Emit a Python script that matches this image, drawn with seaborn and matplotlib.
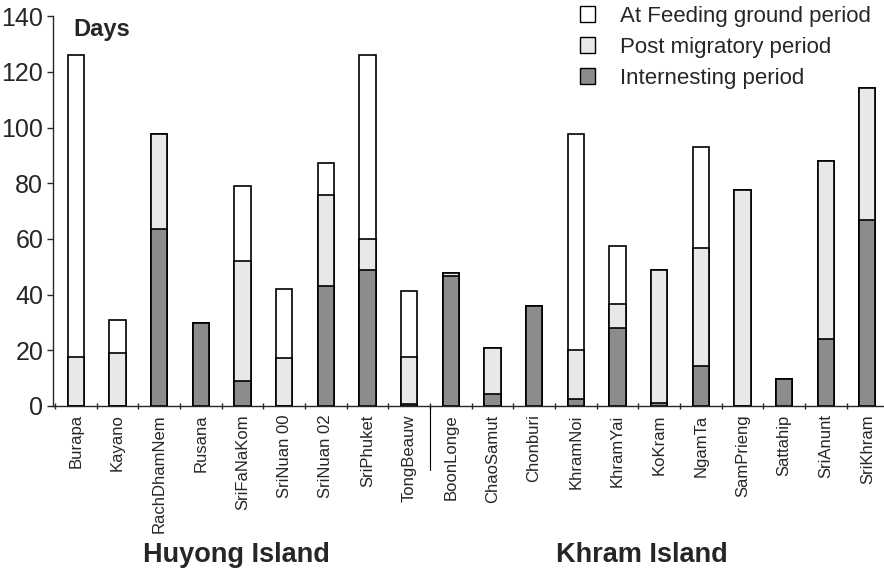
import matplotlib
matplotlib.use("Agg")
import matplotlib.pyplot as plt
import seaborn as sns
import pandas as pd
import numpy as np
from matplotlib.patches import Patch

sites = ["Burapa", "Kayano", "RachDhamNem", "Rusana", "SriFaNaKom", "SriNuan 00",
         "SriNuan 02", "SriPhuket", "TongBeauw", "BoonLonge", "ChaoSamut", "Chonburi",
         "KhramNoi", "KhramYai", "KoKram", "NgamTa", "SamPrieng", "Sattahip",
         "SriAnunt", "SriKhram"]
internesting = [0, 0, 63.5, 29.8, 9.0, 0, 43.0, 48.8, 0.7, 46.7, 4.3, 35.8,
                2.4, 28.0, 1.2, 14.2, 0, 9.6, 24.2, 66.9]
post_migratory = [17.5, 19.0, 34.0, 0, 43.0, 17.4, 32.8, 11.1, 17.0, 1.0, 16.5, 0,
                  17.8, 8.8, 47.6, 42.7, 77.6, 0, 63.8, 47.4]
feeding = [108.5, 11.8, 0, 0, 27.0, 24.5, 11.6, 66.0, 23.6, 0, 0, 0,
           77.4, 20.5, 0, 36.0, 0, 0, 0, 0]
groups = ["Huyong Island", "Khram Island"]

sns.set_style("ticks")
plt.rcParams["font.family"] = ["Liberation Sans", "DejaVu Sans"]

df = pd.DataFrame({"site": sites, "intern": internesting,
                   "post": post_migratory, "feed": feeding})
df["c1"] = df["intern"]
df["c2"] = df["intern"] + df["post"]
df["c3"] = df["c2"] + df["feed"]

fig = plt.figure(figsize=(8.84, 5.77), dpi=100)
ax = fig.add_axes([0.06, 0.2964, 0.94, 0.6756])

c_dark = "#8c8c8c"
c_light = "#e8e8e8"
c_white = "#ffffff"
w = 0.39
sns.barplot(data=df, x="site", y="c3", color=c_white, edgecolor="black",
            linewidth=1.2, width=w, saturation=1, ax=ax)
sns.barplot(data=df, x="site", y="c2", color=c_light, edgecolor="black",
            linewidth=1.2, width=w, saturation=1, ax=ax)
sns.barplot(data=df, x="site", y="c1", color=c_dark, edgecolor="black",
            linewidth=1.2, width=w, saturation=1, ax=ax)

ax.set_ylim(0, 140)
ax.set_xlim(-0.55, len(sites) - 0.6)
ax.set_yticks(np.arange(0, 141, 20))
ax.tick_params(axis="y", labelsize=18, length=4, width=1, pad=3)
ax.set_xticks(np.arange(len(sites)))
ax.set_xticklabels(sites, rotation=90, fontsize=12)
ax.tick_params(axis="x", length=0, pad=6)
ax.set_xticks(np.arange(len(sites)) - 0.5, minor=True)
ax.tick_params(axis="x", which="minor", length=4, width=1, direction="inout")
ax.set_xlabel("")
ax.set_ylabel("")
for s in ["top", "right"]:
    ax.spines[s].set_visible(False)
ax.spines["left"].set_linewidth(1)
ax.spines["bottom"].set_linewidth(1)

ax.text(-0.07, 139.5, "Days", fontsize=17, fontweight="bold", va="top", ha="left")

handles = [Patch(facecolor=c_white, edgecolor="black", label="At Feeding ground period"),
           Patch(facecolor=c_light, edgecolor="black", label="Post migratory period"),
           Patch(facecolor=c_dark, edgecolor="black", label="Internesting period")]
ax.legend(handles=handles, loc="upper right", bbox_to_anchor=(1.008, 1.078),
          frameon=False, fontsize=16, handlelength=0.7, handleheight=0.7,
          handletextpad=1.1, labelspacing=0.45)

# separator between islands
ax.plot([8.5, 8.5], [0, -0.165], transform=ax.get_xaxis_transform(),
        color="black", lw=0.8, clip_on=False)

gfont = dict(fontsize=19.5, fontweight="bold", ha="center", va="center")
fig.text(236 / 884, 1 - 555 / 577, groups[0], **gfont)
fig.text(642 / 884, 1 - 555 / 577, groups[1], **gfont)

fig.savefig("out.png", dpi=100)
